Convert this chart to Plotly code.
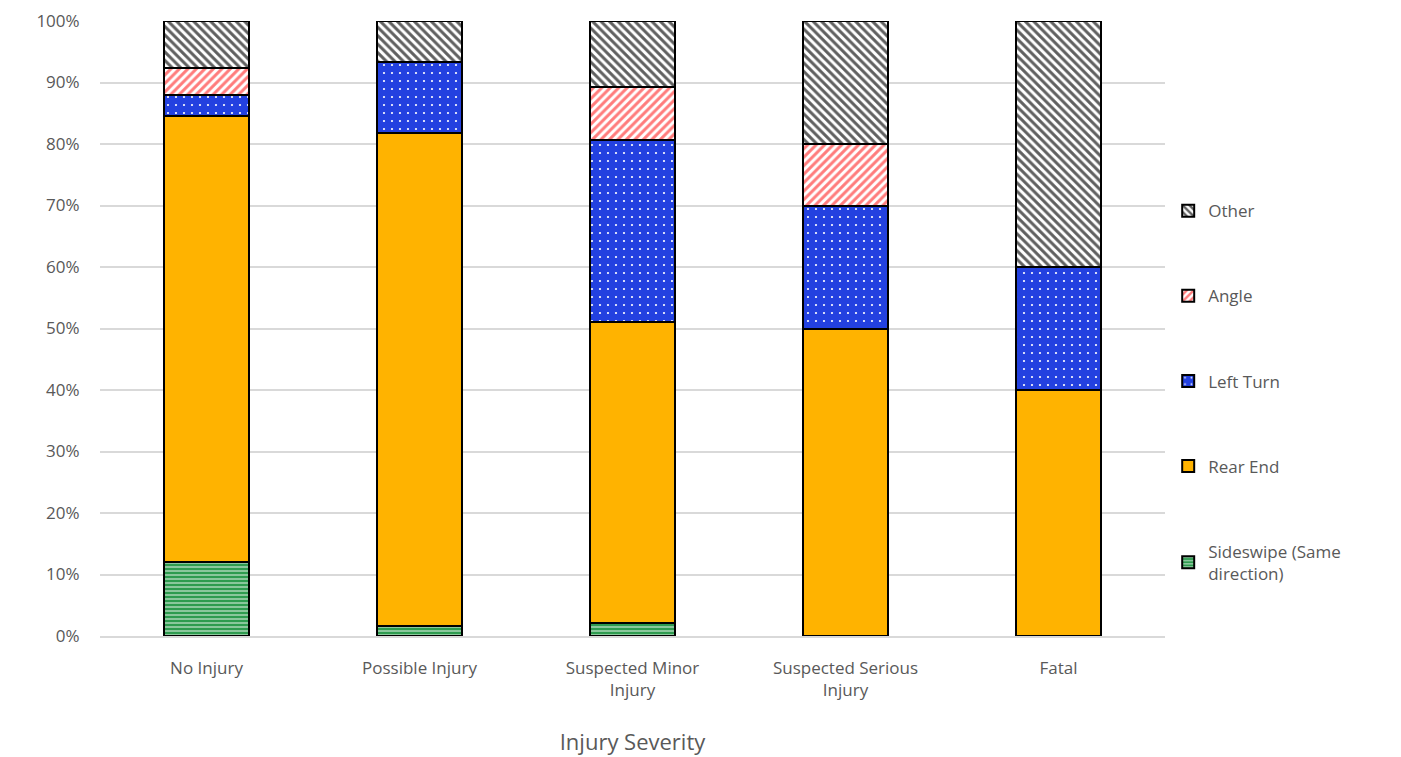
import plotly.graph_objects as go

# Share of crashes (%) by collision type within each injury severity level
severity = ["No Injury", "Possible Injury", "Suspected Minor<br>Injury",
            "Suspected Serious<br>Injury", "Fatal"]
sideswipe = [12.0, 1.6, 2.1, 0.0, 0.0]
rear_end = [72.6, 80.2, 49.0, 50.0, 40.0]
left_turn = [3.4, 11.5, 29.6, 20.0, 20.0]
angle = [4.4, 0.0, 8.6, 10.0, 0.0]
other = [7.6, 6.7, 10.7, 20.0, 40.0]

series = [
    ("Sideswipe (Same<br>direction)", sideswipe,
     dict(shape="-", fgcolor="white", bgcolor="#2E9B4F", size=4, solidity=0.22)),
    ("Rear End", rear_end, None),
    ("Left Turn", left_turn,
     dict(shape=".", fgcolor="white", bgcolor="#2341E0", size=8, solidity=0.06)),
    ("Angle", angle,
     dict(shape="/", fgcolor="#FF7C7C", bgcolor="white", size=6, solidity=0.5)),
    ("Other", other,
     dict(shape="\\", fgcolor="#606060", bgcolor="white", size=6, solidity=0.5)),
]

n = len(series)
fig = go.Figure()
for i, (name, vals, pat) in enumerate(series):
    marker = dict(line=dict(color="black", width=2))
    if pat is None:
        marker["color"] = "#FFB300"
    else:
        marker["color"] = pat["bgcolor"]
        marker["pattern"] = dict(fillmode="replace", **pat)
    fig.add_trace(go.Bar(x=severity, y=vals, name=name, marker=marker,
                         legendgroup=f"g{i}", legendrank=n - i))

fig.update_layout(
    width=1401, height=757,
    barmode="stack", bargap=0.6,
    paper_bgcolor="white", plot_bgcolor="white",
    margin=dict(l=100, r=236, t=21, b=121),
    font=dict(family="Open Sans, Liberation Sans, sans-serif", color="#595959", size=17),
    legend=dict(x=1.003, y=0.72, yanchor="top", xanchor="left",
                traceorder="grouped", tracegroupgap=60,
                font=dict(size=17, color="#595959"), itemwidth=30),
    xaxis=dict(title=dict(text="Injury Severity", font=dict(size=22, color="#595959"),
                          standoff=34),
               automargin=False,
               showline=True, linecolor="#D9D9D9", linewidth=1.5,
               ticks="outside", ticklen=16, tickcolor="rgba(0,0,0,0)",
               tickfont=dict(size=17, color="#595959")),
    yaxis=dict(range=[0, 100], dtick=10, ticksuffix="%", showgrid=True,
               automargin=False,
               gridcolor="#D9D9D9", gridwidth=1.5, zeroline=False,
               ticks="outside", ticklen=16, tickcolor="rgba(0,0,0,0)",
               tickfont=dict(size=17, color="#595959")),
)

fig.write_html("out.html")
